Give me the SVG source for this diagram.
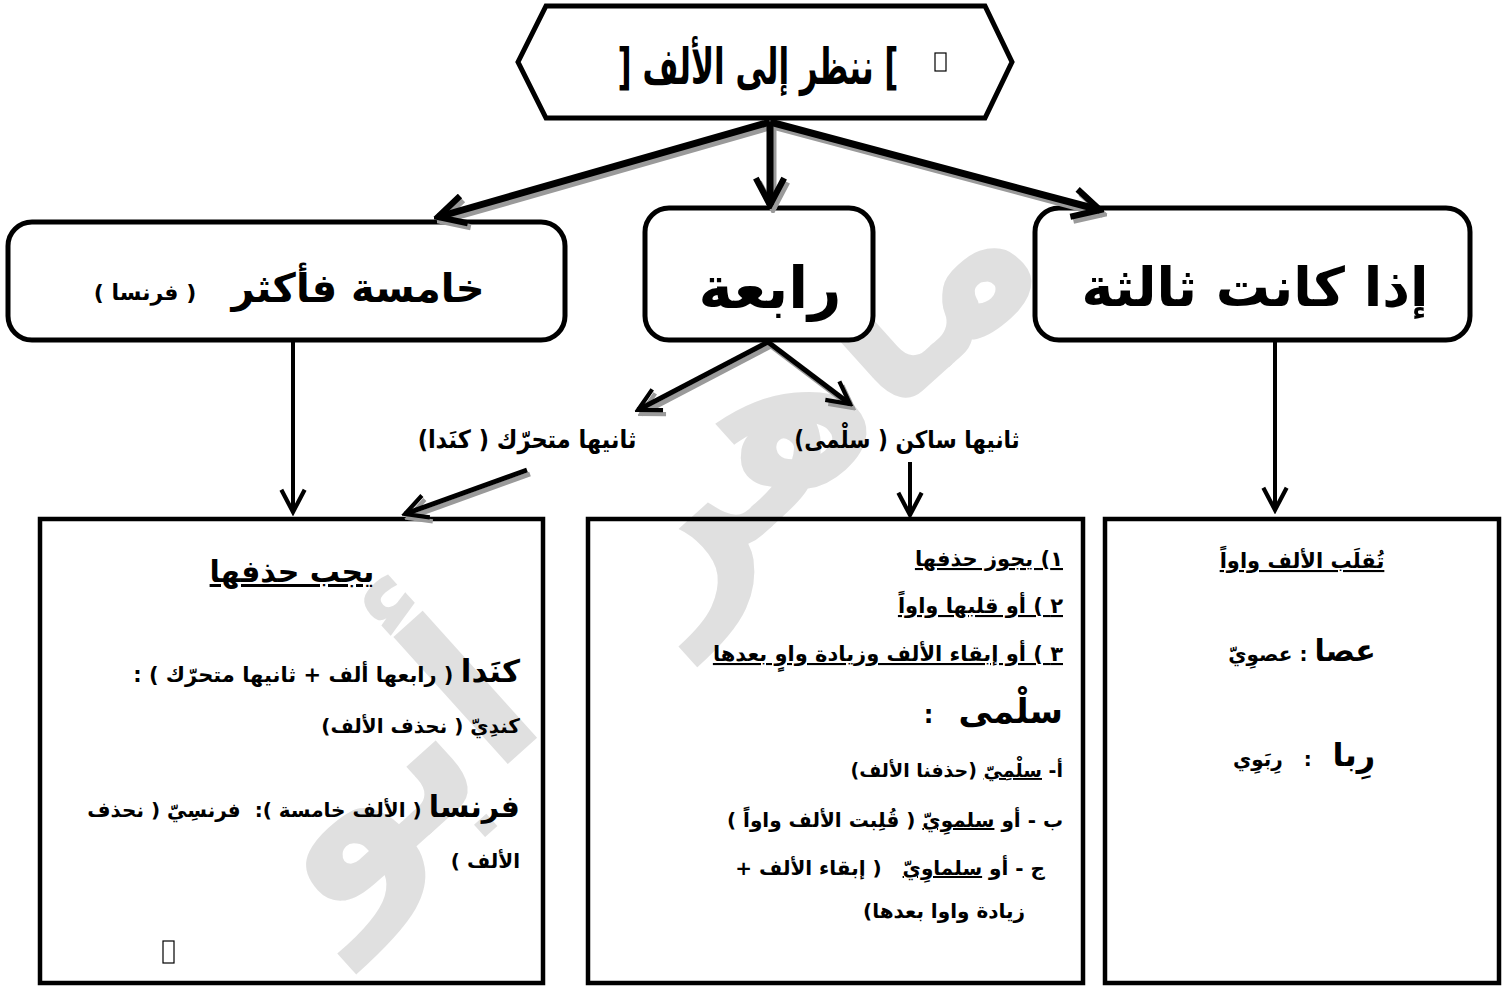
<svg xmlns="http://www.w3.org/2000/svg" width="1507" height="986" viewBox="0 0 1507 986">
<defs>
<style>
.ar{font-family:"DejaVu Sans","Noto Sans",sans-serif;font-weight:bold;direction:rtl;fill:#000}
.cd{font-family:"DejaVu Sans Condensed","DejaVu Sans",sans-serif;font-weight:bold;direction:rtl;fill:#000}
.box{fill:#fff;stroke:#000;stroke-width:5}
.sq{fill:none;stroke:#000;stroke-width:4.5}
.c{text-anchor:middle}
.r{text-anchor:start}
.u{text-decoration:underline}
.ln{fill:none;stroke:#000}
.sh{fill:none;stroke:#9a9a9a}
.wm{font-family:"DejaVu Sans",sans-serif;font-weight:bold;fill:#e0e0e0;direction:rtl;text-anchor:middle}
</style>
<marker id="hk" viewBox="0 0 12 12" refX="10.5" refY="6" markerUnits="userSpaceOnUse" markerWidth="34" markerHeight="34" orient="auto">
<path d="M1,1 L10.5,6 L1,11" fill="none" stroke="#000" stroke-width="2.2"/>
</marker>
<marker id="hg" viewBox="0 0 12 12" refX="10.5" refY="6" markerUnits="userSpaceOnUse" markerWidth="34" markerHeight="34" orient="auto">
<path d="M1,1 L10.5,6 L1,11" fill="none" stroke="#9a9a9a" stroke-width="2.2"/>
</marker>
<marker id="tk" viewBox="0 0 12 12" refX="10.5" refY="6" markerUnits="userSpaceOnUse" markerWidth="28" markerHeight="28" orient="auto">
<path d="M1,1 L10.5,6 L1,11" fill="none" stroke="#000" stroke-width="1.8"/>
</marker>
<marker id="tg" viewBox="0 0 12 12" refX="10.5" refY="6" markerUnits="userSpaceOnUse" markerWidth="28" markerHeight="28" orient="auto">
<path d="M1,1 L10.5,6 L1,11" fill="none" stroke="#9a9a9a" stroke-width="1.8"/>
</marker>
</defs>
<rect width="1507" height="986" fill="#fff"/>
<text class="wm" font-size="225" transform="translate(690,600) rotate(-42)">ماهر&#160;&#160;أبو</text>
<g id="top">
<polygon class="box" points="518,62 546,6 985,6 1012,62 985,118 546,118"/>
<text class="ar c" font-size="50" transform="translate(758,84) scale(0.62,1)">] ننظر إلى الألف [</text>
<rect x="935" y="53" width="11" height="18" fill="none" stroke="#000" stroke-width="1.2"/>
</g>
<g id="n-khamisa">
<rect class="box" x="8" y="222" width="557" height="118" rx="24"/>
<text class="ar c" x="358" y="302" font-size="40">خامسة فأكثر</text>
<text class="ar c" x="145" y="300" font-size="22">( فرنسا )</text>
</g>
<g id="n-rabia">
<rect class="box" x="645" y="208" width="228" height="132" rx="24"/>
<text class="ar c" x="770" y="308" font-size="58">رابعة</text>
</g>
<g id="n-thalitha">
<rect class="box" x="1035" y="208" width="435" height="132" rx="24"/>
<text class="ar c" x="1255" y="306" font-size="54">إذا كانت ثالثة</text>
</g>
<g id="lbl-mutaharrik">
<text class="cd c" x="527" y="448" font-size="25">ثانيها متحرّك ( كنَدا)</text>
</g>
<g id="lbl-sakin">
<text class="cd c" x="907" y="448" font-size="24">ثانيها ساكن ( سلْمى)</text>
</g>
<g id="b-left">
<rect class="sq" x="40" y="519" width="503" height="464"/>
<text class="ar c u" x="292" y="582" font-size="30">يجب حذفها</text>
<text class="ar r" x="520" y="682"><tspan font-size="31">كنَدا</tspan><tspan font-size="21"> ( رابعها ألف + ثانيها متحرّك ) :</tspan></text>
<text class="ar r" x="520" y="733" font-size="20">كندِيّ ( نحذف الألف)</text>
<text class="ar r" x="520" y="817"><tspan font-size="30">فرنسا</tspan><tspan font-size="20"> ( الألف خامسة ):&#160; فرنسِيّ ( نحذف</tspan></text>
<text class="ar r" x="520" y="868" font-size="20">الألف )</text>
<rect x="163" y="941" width="11" height="22" fill="none" stroke="#000" stroke-width="1.2"/>
</g>
<g id="b-mid">
<rect class="sq" x="588" y="519" width="495" height="464"/>
<text class="ar r u" x="1063" y="566" font-size="21">١) يجوز حذفها</text>
<text class="ar r u" x="1063" y="613" font-size="21">٢ ) أو قلبها واواً</text>
<text class="ar r u" x="1063" y="661" font-size="21">٣ ) أو إبقاء الألف وزيادة واوٍ بعدها</text>
<text class="ar r" x="1063" y="723"><tspan font-size="34">سلْمى</tspan><tspan font-size="24">&#160;&#160; :</tspan></text>
<text class="ar r" x="1063" y="777" font-size="19">أ- <tspan class="u">سلْمِيّ</tspan> (حذفنا الألف)</text>
<text class="ar r" x="1063" y="827" font-size="20">ب - أو <tspan class="u">سلموِيّ</tspan> ( قُلِبت الألف واواً )</text>
<text class="ar r" x="1045" y="875" font-size="20">ج - أو <tspan class="u">سلماوِيّ</tspan>&#160;&#160; ( إبقاء الألف +</text>
<text class="ar r" x="1025" y="918" font-size="20">زيادة واوا بعدها)</text>
</g>
<g id="b-right">
<rect class="sq" x="1105" y="519" width="394" height="464"/>
<text class="ar c u" x="1302" y="568" font-size="21">تُقلَب الألف واواً</text>
<text class="ar c" x="1302" y="661"><tspan font-size="30">عصا</tspan><tspan font-size="20"> : عصوِيّ</tspan></text>
<text class="ar c" x="1304" y="766"><tspan font-size="32">رِبا</tspan><tspan font-size="20">&#160;&#160; :&#160;&#160; رِبَوِي</tspan></text>
</g>
<g id="connectors">
<g transform="translate(3,4)">
<line class="sh" x1="770" y1="122" x2="438" y2="217" stroke-width="7" marker-end="url(#hg)"/>
<line class="sh" x1="770" y1="122" x2="770" y2="205" stroke-width="7" marker-end="url(#hg)"/>
<line class="sh" x1="770" y1="122" x2="1100" y2="210" stroke-width="7" marker-end="url(#hg)"/>
<line class="sh" x1="768" y1="342" x2="638" y2="410" stroke-width="5" marker-end="url(#tg)"/>
<line class="sh" x1="768" y1="342" x2="850" y2="404" stroke-width="5" marker-end="url(#tg)"/>
<line class="sh" x1="527" y1="470" x2="405" y2="514" stroke-width="5" marker-end="url(#tg)"/>
</g>
<line class="ln" x1="770" y1="122" x2="438" y2="217" stroke-width="7" marker-end="url(#hk)"/>
<line class="ln" x1="770" y1="122" x2="770" y2="205" stroke-width="7" marker-end="url(#hk)"/>
<line class="ln" x1="770" y1="122" x2="1100" y2="210" stroke-width="7" marker-end="url(#hk)"/>
<line class="ln" x1="768" y1="342" x2="638" y2="410" stroke-width="5" marker-end="url(#tk)"/>
<line class="ln" x1="768" y1="342" x2="850" y2="404" stroke-width="5" marker-end="url(#tk)"/>
<line class="ln" x1="527" y1="470" x2="405" y2="514" stroke-width="5" marker-end="url(#tk)"/>
<line class="ln" x1="293" y1="342" x2="293" y2="512" stroke-width="4" marker-end="url(#tk)"/>
<line class="ln" x1="910" y1="462" x2="910" y2="515" stroke-width="4" marker-end="url(#tk)"/>
<line class="ln" x1="1275" y1="342" x2="1275" y2="510" stroke-width="4" marker-end="url(#tk)"/>
</g>
</svg>
